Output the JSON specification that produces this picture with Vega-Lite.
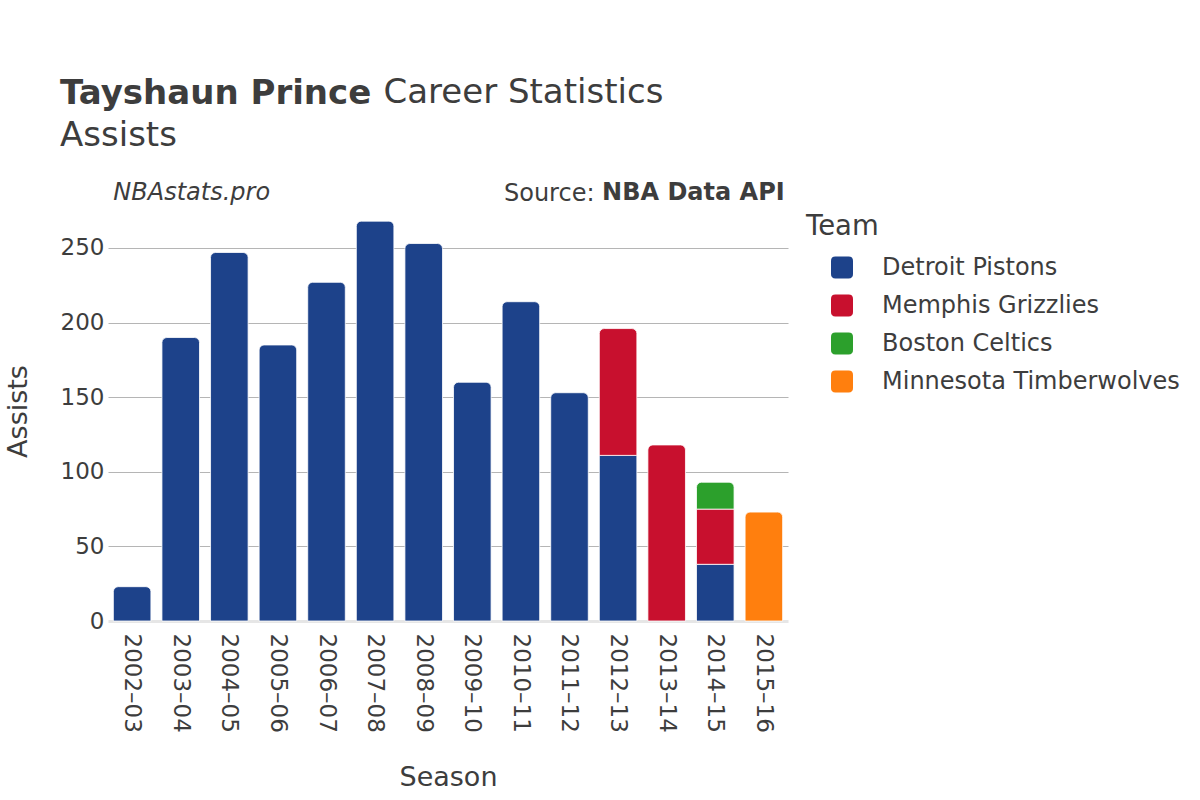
{
  "$schema": "https://vega.github.io/schema/vega-lite/v6.json",
  "width": 680,
  "height": 420,
  "autosize": "none",
  "padding": {"left": 108, "top": 201, "right": 412, "bottom": 179},
  "background": "white",
  "config": {
    "view": {"stroke": null},
    "font": "DejaVu Sans"
  },
  "title": {
    "text": "Tayshaun Prince",
    "subtitle": "Assists",
    "anchor": "start",
    "frame": "group",
    "dx": -48,
    "offset": -78,
    "fontSize": 34,
    "fontWeight": "bold",
    "color": "#3d3d3d",
    "subtitleFontSize": 34,
    "subtitleFontWeight": "normal",
    "subtitleColor": "#3d3d3d",
    "subtitlePadding": 8
  },
  "layer": [
    {
      "data": {
        "values": [
          {"season": "2002–03", "team": "Detroit Pistons", "assists": 23},
          {"season": "2003–04", "team": "Detroit Pistons", "assists": 190},
          {"season": "2004–05", "team": "Detroit Pistons", "assists": 247},
          {"season": "2005–06", "team": "Detroit Pistons", "assists": 185},
          {"season": "2006–07", "team": "Detroit Pistons", "assists": 227},
          {"season": "2007–08", "team": "Detroit Pistons", "assists": 268},
          {"season": "2008–09", "team": "Detroit Pistons", "assists": 253},
          {"season": "2009–10", "team": "Detroit Pistons", "assists": 160},
          {"season": "2010–11", "team": "Detroit Pistons", "assists": 214},
          {"season": "2011–12", "team": "Detroit Pistons", "assists": 153},
          {"season": "2012–13", "team": "Detroit Pistons", "assists": 111},
          {"season": "2012–13", "team": "Memphis Grizzlies", "assists": 85},
          {"season": "2013–14", "team": "Memphis Grizzlies", "assists": 118},
          {"season": "2014–15", "team": "Detroit Pistons", "assists": 38},
          {"season": "2014–15", "team": "Memphis Grizzlies", "assists": 37},
          {"season": "2014–15", "team": "Boston Celtics", "assists": 18},
          {"season": "2015–16", "team": "Minnesota Timberwolves", "assists": 73}
        ]
      },
      "transform": [
        {"calculate": "indexof(['Detroit Pistons','Memphis Grizzlies','Boston Celtics','Minnesota Timberwolves'], datum.team)", "as": "ord"},
        {"stack": "assists", "groupby": ["season"], "sort": [{"field": "ord", "order": "ascending"}], "as": ["y0", "y1"]},
        {"joinaggregate": [{"op": "max", "field": "ord", "as": "topord"}], "groupby": ["season"]}
      ],
      "encoding": {
        "x": {
          "field": "season",
          "type": "nominal",
          "scale": {"paddingInner": 0.227, "paddingOuter": 0.11},
          "axis": {
            "orient": "bottom",
            "title": "Season",
            "labelAngle": 90,
            "labelAlign": "left",
            "labelBaseline": "middle",
            "labelFontSize": 23,
            "labelColor": "#3d3d3d",
            "labelPadding": 12,
            "ticks": false,
            "domain": false,
            "grid": false,
            "titleFontSize": 27,
            "titleFontWeight": "normal",
            "titleColor": "#3d3d3d",
            "titlePadding": 32
          }
        },
        "y": {
          "field": "y1",
          "type": "quantitative",
          "scale": {"domain": [0, 281.5], "nice": false},
          "axis": {
            "orient": "left",
            "title": "Assists",
            "values": [0, 50, 100, 150, 200, 250],
            "grid": true,
            "gridColor": {"condition": {"test": "datum.value === 0", "value": "#e6e6e6"}, "value": "#b5b5b5"},
            "gridWidth": {"condition": {"test": "datum.value === 0", "value": 3}, "value": 1},
            "ticks": false,
            "domain": false,
            "labelFontSize": 23,
            "labelColor": "#3d3d3d",
            "labelPadding": 4,
            "titleFontSize": 27,
            "titleFontWeight": "normal",
            "titleColor": "#3d3d3d",
            "titlePadding": 28
          }
        },
        "y2": {"field": "y0"},
        "color": {
          "field": "team",
          "type": "nominal",
          "scale": {
            "domain": ["Detroit Pistons", "Memphis Grizzlies", "Boston Celtics", "Minnesota Timberwolves"],
            "range": ["#1d428a", "#c8102e", "#2ca02c", "#ff7f0e"]
          },
          "legend": {
            "orient": "none",
            "legendX": 698,
            "legendY": 12,
            "title": "Team",
            "padding": 0,
            "titleFontSize": 27.5,
            "titleFontWeight": "normal",
            "titleColor": "#3d3d3d",
            "titlePadding": 15,
            "labelFontSize": 24,
            "labelColor": "#3d3d3d",
            "labelLimit": 0,
            "labelOffset": 28,
            "symbolType": "M-1,-0.6Q-1,-1,-0.6,-1L0.6,-1Q1,-1,1,-0.6L1,0.6Q1,1,0.6,1L-0.6,1Q-1,1,-1,0.6Z",
            "symbolSize": 484,
            "symbolOffset": 24,
            "symbolStrokeWidth": 0,
            "symbolOpacity": 1,
            "rowPadding": 14
          }
        }
      },
      "layer": [
        {
          "transform": [{"filter": "datum.ord < datum.topord"}],
          "mark": {"type": "bar", "stroke": "white", "strokeWidth": 0.8}
        },
        {
          "transform": [{"filter": "datum.ord == datum.topord"}],
          "mark": {"type": "bar", "stroke": "white", "strokeWidth": 0.8, "cornerRadiusTopLeft": 5, "cornerRadiusTopRight": 5}
        }
      ]
    },
    {
      "data": {"values": [{}]},
      "mark": {"type": "text", "text": "NBAstats.pro", "fontStyle": "italic", "fontSize": 24, "align": "left", "baseline": "alphabetic", "color": "#3d3d3d"},
      "encoding": {
        "x": {
          "datum": "2002–03",
          "type": "nominal",
          "bandPosition": 0,
          "axis": {
            "orient": "top",
            "title": "Source:",
            "labels": false,
            "ticks": false,
            "domain": false,
            "grid": false,
            "titleX": 486,
            "titleY": -1,
            "titleAngle": 0,
            "titleAlign": "right",
            "titleBaseline": "alphabetic",
            "titleFontSize": 24,
            "titleFontWeight": "normal",
            "titleColor": "#3d3d3d"
          }
        },
        "y": {"datum": 282, "type": "quantitative", "axis": null}
      }
    },
    {
      "data": {"values": [{}]},
      "mark": {"type": "text", "text": "NBA Data API", "fontWeight": "bold", "fontSize": 24, "align": "right", "baseline": "alphabetic", "color": "#3d3d3d", "dx": 2},
      "encoding": {
        "x": {"datum": "2015–16", "type": "nominal", "bandPosition": 1, "axis": null},
        "y": {
          "datum": 282,
          "type": "quantitative",
          "axis": {
            "orient": "right",
            "title": "Career Statistics",
            "labels": false,
            "ticks": false,
            "domain": false,
            "grid": false,
            "titleX": -405,
            "titleY": -99,
            "titleAngle": 0,
            "titleAlign": "left",
            "titleBaseline": "alphabetic",
            "titleFontSize": 34,
            "titleFontWeight": "normal",
            "titleColor": "#3d3d3d"
          }
        }
      }
    }
  ],
  "resolve": {"axis": {"x": "independent", "y": "independent"}}
}
